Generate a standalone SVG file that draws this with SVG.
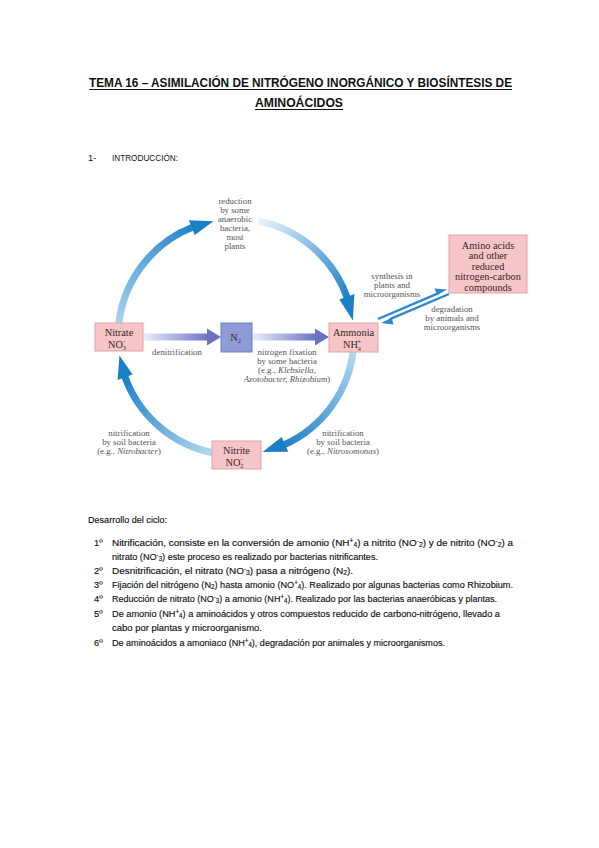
<svg xmlns="http://www.w3.org/2000/svg" width="599" height="848" viewBox="0 0 599 848">
<style>
.title{font-family:"Liberation Sans","Open Sans",sans-serif;font-weight:bold;font-size:13.5px;fill:#111}
.body{font-family:"Liberation Sans","Open Sans",sans-serif;font-size:9.3px;fill:#111;stroke:#111;stroke-width:0.15}
.intro{font-family:"Liberation Sans","Open Sans",sans-serif;font-size:9.3px;fill:#111}
.lbl{font-family:"Liberation Serif","DejaVu Serif",serif;font-size:8.8px;fill:#555;text-anchor:middle}
.bt{font-family:"Liberation Serif","DejaVu Serif",serif;font-size:10.3px;fill:#3a2626;text-anchor:middle}
.box{fill:#f5c5c8;stroke:#e0a4a9;stroke-width:1}
.arc{fill:none;stroke-width:7}
.head{fill:#1b7fc7}
.ph{fill:#6b72c4}
.dbl{stroke:#2a89cf;stroke-width:2.4;fill:none}
.dh{fill:#2a89cf}
.sub{font-size:6.3px}
</style>
<defs>
<linearGradient id="g1" gradientUnits="userSpaceOnUse" x1="118" y1="335" x2="200" y2="222"><stop offset="0" stop-color="#b4d9f2"/><stop offset="1" stop-color="#1b7fc7"/></linearGradient>
<linearGradient id="g2" gradientUnits="userSpaceOnUse" x1="258" y1="221" x2="348" y2="300"><stop offset="0" stop-color="#eaf4fc"/><stop offset="1" stop-color="#1b7fc7"/></linearGradient>
<linearGradient id="g3" gradientUnits="userSpaceOnUse" x1="352" y1="350" x2="282" y2="447"><stop offset="0" stop-color="#b4d9f2"/><stop offset="1" stop-color="#1b7fc7"/></linearGradient>
<linearGradient id="g4" gradientUnits="userSpaceOnUse" x1="215" y1="453" x2="124" y2="376"><stop offset="0" stop-color="#b4d9f2"/><stop offset="1" stop-color="#1b7fc7"/></linearGradient>
<linearGradient id="gp" x1="0" y1="0" x2="1" y2="0"><stop offset="0" stop-color="#eceef9"/><stop offset="1" stop-color="#6b72c4"/></linearGradient>
</defs>

<!-- Title -->
<g id="title">
<text class="title" x="89" y="87" textLength="423" lengthAdjust="spacingAndGlyphs">TEMA 16 – ASIMILACIÓN DE NITRÓGENO INORGÁNICO Y BIOSÍNTESIS DE</text>
<line x1="89" y1="89.5" x2="512" y2="89.5" stroke="#111" stroke-width="1"/>
<text class="title" x="255" y="107" textLength="88" lengthAdjust="spacingAndGlyphs">AMINOÁCIDOS</text>
<line x1="255" y1="109.5" x2="343" y2="109.5" stroke="#111" stroke-width="1"/>
</g>
<g id="intro">
<text class="intro" x="88" y="161">1-</text>
<text class="intro" x="112" y="161" textLength="66" lengthAdjust="spacingAndGlyphs">INTRODUCCIÓN:</text>
</g>

<!-- Connectors -->
<g id="connectors">
<path class="arc" stroke="url(#g1)" d="M118.16,330.82 A118,118 0 0 1 193.71,226.84"/>
<polygon class="head" points="194.79,235.01 188.80,220.18 213.48,221.17"/>
<path class="arc" stroke="url(#g2)" d="M258.52,221.17 A118,118 0 0 1 347.57,298.58"/>
<polygon class="head" points="339.37,299.38 354.40,293.90 352.85,320.58"/>
<path class="arc" stroke="url(#g3)" d="M353.55,347.28 A118,118 0 0 1 283.05,445.21"/>
<polygon class="head" points="281.62,437.10 288.25,451.65 262.54,451.98"/>
<path class="arc" stroke="url(#g4)" d="M215.51,453.21 A118,118 0 0 1 124.43,375.42"/>
<polygon class="head" points="132.63,374.62 117.60,380.09 119.45,355.46"/>
<rect x="143" y="333.5" width="66" height="7" fill="url(#gp)"/>
<polygon class="ph" points="207,328.5 221,337 207,345.5"/>
<rect x="252" y="333.5" width="64" height="7" fill="url(#gp)"/>
<polygon class="ph" points="315,328.5 329,337 315,345.5"/>
<line class="dbl" x1="378" y1="319" x2="438" y2="293.4"/>
<polygon class="dh" points="447,289.5 434.4,288.6 437.4,295"/>
<line class="dbl" x1="449" y1="294" x2="390" y2="319.2"/>
<polygon class="dh" points="381,323 391.6,317.8 393.6,324.6"/>
</g>

<!-- Nodes -->
<g id="nitrate">
<rect class="box" x="95" y="323" width="48" height="28"/>
<text class="bt" x="119" y="336">Nitrate</text>
<text class="bt" x="117" y="347.5">NO<tspan class="sub" dy="2.5">3</tspan><tspan class="sub" dx="-3.6" dy="-6.5">−</tspan></text>
</g>
<g id="n2">
<rect x="221" y="323" width="31" height="29" fill="#8e9bd7" stroke="#7381c2" stroke-width="1"/>
<text class="bt" x="235.5" y="340.5">N<tspan class="sub" dy="2.5">2</tspan></text>
</g>
<g id="ammonia">
<rect class="box" x="329" y="323" width="49" height="29"/>
<text class="bt" x="353.5" y="336">Ammonia</text>
<text class="bt" x="352" y="348">NH<tspan class="sub" dy="2.5">4</tspan><tspan class="sub" dx="-3.6" dy="-6.5">+</tspan></text>
</g>
<g id="nitrite">
<rect class="box" x="212" y="441" width="49" height="28"/>
<text class="bt" x="236.5" y="454">Nitrite</text>
<text class="bt" x="234.5" y="465.5">NO<tspan class="sub" dy="2.5">2</tspan><tspan class="sub" dx="-3.6" dy="-6.5">−</tspan></text>
</g>
<g id="aminoacids">
<rect class="box" x="449" y="235" width="78" height="58"/>
<text class="bt" x="488" y="248.5">Amino acids</text>
<text class="bt" x="488" y="259">and other</text>
<text class="bt" x="488" y="269.5">reduced</text>
<text class="bt" x="488" y="280">nitrogen-carbon</text>
<text class="bt" x="488" y="290.5">compounds</text>
</g>

<!-- Labels -->
<g id="labels">
<text class="lbl" x="235" y="204">reduction</text>
<text class="lbl" x="235" y="213">by some</text>
<text class="lbl" x="235" y="222">anaerobic</text>
<text class="lbl" x="235" y="231">bacteria,</text>
<text class="lbl" x="235" y="240">most</text>
<text class="lbl" x="235" y="249">plants</text>
<text class="lbl" x="392" y="279">synthesis in</text>
<text class="lbl" x="392" y="288">plants and</text>
<text class="lbl" x="392" y="297">microorganisms</text>
<text class="lbl" x="452" y="312">degradation</text>
<text class="lbl" x="452" y="321">by animals and</text>
<text class="lbl" x="452" y="330">microorganisms</text>
<text class="lbl" x="177" y="354.5">denitrification</text>
<text class="lbl" x="287" y="354.5">nitrogen fixation</text>
<text class="lbl" x="287" y="363.5">by some bacteria</text>
<text class="lbl" x="287" y="372.5">(e.g., <tspan font-style="italic">Klebsiella,</tspan></text>
<text class="lbl" x="287" y="381.5"><tspan font-style="italic">Azotobacter, Rhizobium</tspan>)</text>
<text class="lbl" x="129" y="436">nitrification</text>
<text class="lbl" x="129" y="445">by soil bacteria</text>
<text class="lbl" x="129" y="454">(e.g., <tspan font-style="italic">Nitrobacter</tspan>)</text>
<text class="lbl" x="343" y="436">nitrification</text>
<text class="lbl" x="343" y="445">by soil bacteria</text>
<text class="lbl" x="343" y="454">(e.g., <tspan font-style="italic">Nitrosomonas</tspan>)</text>
</g>

<!-- Body text -->
<g id="body">
<text class="body" x="88" y="522.5" textLength="79" lengthAdjust="spacingAndGlyphs">Desarrollo del ciclo:</text>
<text class="body" x="94" y="545.5">1º</text>
<text class="body" x="112" y="545.5" textLength="401" lengthAdjust="spacingAndGlyphs">Nitrificación, consiste en la conversión de amonio (NH<tspan class="sub" dy="-2.5">+</tspan><tspan class="sub" dy="4">4</tspan><tspan dy="-1.5">) a nitrito (NO</tspan><tspan class="sub" dy="-2.5">-</tspan><tspan class="sub" dy="4">2</tspan><tspan dy="-1.5">) y de nitrito (NO</tspan><tspan class="sub" dy="-2.5">-</tspan><tspan class="sub" dy="4">2</tspan><tspan dy="-1.5">)  a</tspan></text>
<text class="body" x="112" y="559.5" textLength="266" lengthAdjust="spacingAndGlyphs">nitrato (NO<tspan class="sub" dy="-2.5">-</tspan><tspan class="sub" dy="4">3</tspan><tspan dy="-1.5">) este proceso es realizado por bacterias nitrificantes.</tspan></text>
<text class="body" x="94" y="573.5">2º</text>
<text class="body" x="112" y="573.5" textLength="241" lengthAdjust="spacingAndGlyphs">Desnitrificación, el nitrato (NO<tspan class="sub" dy="-2.5">-</tspan><tspan class="sub" dy="4">3</tspan><tspan dy="-1.5">)  pasa a  nitrógeno (N</tspan><tspan class="sub" dy="1.5">2</tspan><tspan dy="-1.5">).</tspan></text>
<text class="body" x="94" y="587.5">3º</text>
<text class="body" x="112" y="587.5" textLength="401" lengthAdjust="spacingAndGlyphs">Fijación del nitrógeno  (N<tspan class="sub" dy="1.5">2</tspan><tspan dy="-1.5">) hasta amonio (NO</tspan><tspan class="sub" dy="-2.5">+</tspan><tspan class="sub" dy="4">4</tspan><tspan dy="-1.5">). Realizado por algunas bacterias como Rhizobium.</tspan></text>
<text class="body" x="94" y="601.5">4º</text>
<text class="body" x="112" y="601.5" textLength="385" lengthAdjust="spacingAndGlyphs">Reducción de nitrato (NO<tspan class="sub" dy="-2.5">-</tspan><tspan class="sub" dy="4">3</tspan><tspan dy="-1.5">) a amonio (NH</tspan><tspan class="sub" dy="-2.5">+</tspan><tspan class="sub" dy="4">4</tspan><tspan dy="-1.5">). Realizado por las bacterias anaeróbicas y plantas.</tspan></text>
<text class="body" x="94" y="616.5">5º</text>
<text class="body" x="112" y="616.5" textLength="388" lengthAdjust="spacingAndGlyphs">De amonio (NH<tspan class="sub" dy="-2.5">+</tspan><tspan class="sub" dy="4">4</tspan><tspan dy="-1.5">) a aminoácidos y otros compuestos reducido de carbono-nitrógeno, llevado a</tspan></text>
<text class="body" x="112" y="630.5" textLength="150" lengthAdjust="spacingAndGlyphs">cabo por plantas y microorganismo.</text>
<text class="body" x="94" y="645.5">6º</text>
<text class="body" x="112" y="645.5" textLength="333" lengthAdjust="spacingAndGlyphs">De aminoácidos a amoniaco (NH<tspan class="sub" dy="-2.5">+</tspan><tspan class="sub" dy="4">4</tspan><tspan dy="-1.5">), degradación por animales y microorganismos.</tspan></text>
</g>
</svg>
